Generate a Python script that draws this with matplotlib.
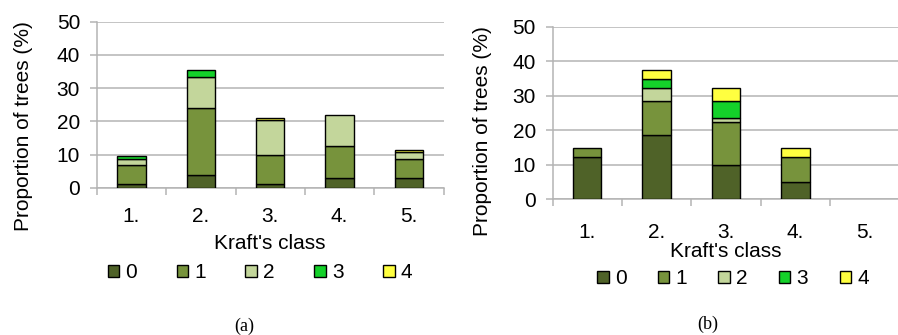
import matplotlib
matplotlib.use("Agg")
import matplotlib.pyplot as plt
from matplotlib.patches import Patch
import numpy as np

plt.rcParams['font.family'] = ['Liberation Sans', 'DejaVu Sans']

# Kraft's class and damage degree categories
classes = ["1.", "2.", "3.", "4.", "5."]
degrees = ["0", "1", "2", "3", "4"]
colors = ["#4f6228", "#77933c", "#c3d69b", "#14d12a", "#ffff40"]

# Proportion of trees (%) per damage degree, one list per degree
a_deg0 = [1.1, 3.9, 1.1, 3.0, 3.0]
a_deg1 = [5.6, 20.0, 8.6, 9.5, 5.6]
a_deg2 = [1.8, 9.5, 10.6, 9.5, 2.2]
a_deg3 = [1.1, 2.1, 0.0, 0.0, 0.0]
a_deg4 = [0.0, 0.0, 0.8, 0.0, 0.7]

b_deg0 = [12.4, 18.6, 9.9, 5.0, 0.0]
b_deg1 = [2.6, 10.0, 12.5, 7.3, 0.0]
b_deg2 = [0.0, 3.7, 1.2, 0.0, 0.0]
b_deg3 = [0.0, 2.6, 5.0, 0.0, 0.0]
b_deg4 = [0.0, 2.5, 3.8, 2.7, 0.0]

grid_col = "#b4b4b4"
fs = 15


def draw_panel(ax, series, label_pad, xlabel_pad):
    x = np.arange(len(classes))
    bottom = np.zeros(len(classes))
    for vals, col in zip(series, colors):
        vals = np.array(vals)
        nz = vals > 0  # skip empty segments so no flat outlines show
        ax.bar(x[nz], vals[nz], width=0.41, bottom=bottom[nz], color=col,
               edgecolor="black", linewidth=1.0, zorder=3)
        bottom += vals
    ax.set_xlim(-0.5, 4.5)
    ax.set_ylim(0, 50)
    ax.set_yticks(range(0, 51, 10))
    ax.yaxis.grid(True, color=grid_col, linewidth=1.1, zorder=0)
    ax.set_axisbelow(True)
    # boundary ticks between classes, labels at class centres
    ax.set_xticks(np.arange(-0.5, 5, 1.0))
    ax.set_xticklabels([])
    ax.set_xticks(x, minor=True)
    ax.set_xticklabels(classes, minor=True)
    ax.tick_params(axis="x", which="major", length=5, color=grid_col, width=1.1)
    ax.tick_params(axis="x", which="minor", length=0, pad=label_pad, labelsize=fs)
    ax.tick_params(axis="y", length=5, color=grid_col, width=1.1, pad=7, labelsize=fs)
    for side in ["top", "right"]:
        ax.spines[side].set_visible(False)
    for side in ["left", "bottom"]:
        ax.spines[side].set_color(grid_col)
        ax.spines[side].set_linewidth(1.1)
    ax.set_xlabel("Kraft's class", fontsize=fs, labelpad=xlabel_pad)


fig = plt.figure(figsize=(8.98, 3.35), dpi=100)
ax1 = fig.add_axes([0.1077, 0.4397, 0.3864, 0.4955])
ax2 = fig.add_axes([0.6153, 0.4045, 0.3864, 0.5158])

draw_panel(ax1, [a_deg0, a_deg1, a_deg2, a_deg3, a_deg4], 14, 6)
draw_panel(ax2, [b_deg0, b_deg1, b_deg2, b_deg3, b_deg4], 17, 0)

fig.text(24 / 898, 1 - 126 / 335, "Proportion of trees (%)", fontsize=15,
         rotation=90, ha="center", va="center")
fig.text(483 / 898, 1 - 131 / 335, "Proportion of trees (%)", fontsize=15,
         rotation=90, ha="center", va="center")

handles = [Patch(facecolor=c, edgecolor="black", linewidth=1.0) for c in colors]
fig.legend(handles, degrees, loc="center", bbox_to_anchor=(260 / 898, 1 - 273 / 335),
           ncol=5, frameon=False, fontsize=fs, handlelength=0.55, handleheight=0.55,
           handletextpad=0.3, columnspacing=1.9)
fig.legend(handles, degrees, loc="center", bbox_to_anchor=(733 / 898, 1 - 279 / 335),
           ncol=5, frameon=False, fontsize=fs, handlelength=0.55, handleheight=0.55,
           handletextpad=0.3, columnspacing=1.5)

fig.text(244 / 898, 1 - 326 / 335, "(a)", family="Liberation Serif", fontsize=13,
         ha="center", va="center")
fig.text(708 / 898, 1 - 324 / 335, "(b)", family="Liberation Serif", fontsize=13,
         ha="center", va="center")

fig.savefig("out.png", dpi=100)
